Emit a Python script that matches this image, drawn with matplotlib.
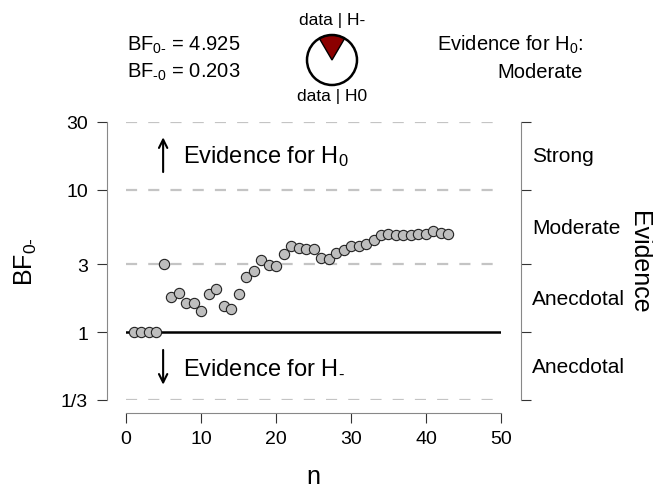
import numpy as np
import matplotlib
matplotlib.use("Agg")
import matplotlib.pyplot as plt
from matplotlib.patches import Wedge, Circle

plt.rcParams['font.family'] = ['Liberation Sans', 'DejaVu Sans']
plt.rcParams['mathtext.fontset'] = 'custom'
plt.rcParams['mathtext.rm'] = 'Liberation Sans'
plt.rcParams['mathtext.it'] = 'Liberation Sans:italic'

# sequential BF0- values, n = 1..43
n = np.arange(1, 44)
bf = [1.0, 1.0, 1.0, 1.0, 3.01, 1.76, 1.88, 1.61, 1.61, 1.41,
      1.85, 2.00, 1.53, 1.45, 1.85, 2.44, 2.71, 3.21, 2.96, 2.91,
      3.56, 4.05, 3.90, 3.82, 3.82, 3.32, 3.28, 3.60, 3.78, 4.05,
      4.01, 4.14, 4.47, 4.82, 4.90, 4.82, 4.82, 4.79, 4.93, 4.93,
      5.11, 4.95, 4.925]

yticks = [1/3, 1, 3, 10, 30]
ytick_labels = ["1/3", "1", "3", "10", "30"]
xticks = [0, 10, 20, 30, 40, 50]
bands = [np.sqrt(300), np.sqrt(30), np.sqrt(3), np.sqrt(1/3)]
band_labels = ["Strong", "Moderate", "Anecdotal", "Anecdotal"]

bf_0m = 4.925
bf_m0 = 0.203

fig = plt.figure(figsize=(6.53, 4.89), dpi=100)
ax = fig.add_axes([126/653, 1 - 401/489, 375/653, 278/489])
ax.set_yscale('log')
ax.set_xlim(0, 50)
ax.set_ylim(1/3, 30)

# dashed reference lines
for yv in [1/3, 3, 10, 30]:
    ax.plot([0, 50], [yv, yv], color='#c4c4c4', lw=1.6, ls=(0, (5, 5)), zorder=1)
ax.plot([0, 50], [1, 1], color='black', lw=1.8, zorder=2)

ax.plot(n, bf, 'o', ms=7.4, mfc='#bebebe', mec='#222222', mew=0.8, zorder=3, clip_on=False)

for s in ['top', 'right']:
    ax.spines[s].set_visible(False)
ax.spines['left'].set_position(('outward', 13.7))
ax.spines['bottom'].set_position(('outward', 9.5))
ax.spines['left'].set_bounds(1/3, 30)
ax.spines['bottom'].set_bounds(0, 50)
ax.spines['left'].set_color('#888888')
ax.spines['bottom'].set_color('#888888')

ax.set_yticks(yticks)
ax.set_yticklabels(ytick_labels)
ax.minorticks_off()
ax.set_xticks(xticks)
ax.tick_params(axis='both', labelsize=14, length=7.2, width=0.8, color='#333333')
ax.tick_params(axis='y', pad=6.5)
ax.tick_params(axis='x', pad=5)

ax.set_xlabel('n', fontsize=18, va='baseline')
ax.xaxis.set_label_coords(0.5, (401 - 484) / 278)
ax.set_ylabel(r'BF$_{0\text{-}}$', fontsize=18, va='center', ha='center')
ax.yaxis.set_label_coords((26 - 126) / 375, 0.5)

# right evidence axis
ax2 = ax.twinx()
ax2.set_yscale('log')
ax2.set_ylim(1/3, 30)
for s in ['top', 'left', 'bottom']:
    ax2.spines[s].set_visible(False)
ax2.spines['right'].set_position(('outward', 14.4))
ax2.spines['right'].set_bounds(1/3, 30)
ax2.spines['right'].set_color('#888888')
ax2.set_yticks(yticks)
ax2.set_yticklabels([])
ax2.minorticks_off()
ax2.tick_params(axis='y', length=7.5, width=0.8, color='#333333')

for yv, lab in zip(bands, band_labels):
    ax.text(1.083, yv, lab, transform=ax.get_yaxis_transform(),
            fontsize=15, va='center', ha='left')
ax.text(1.368, 0.5, 'Evidence', transform=ax.transAxes, rotation=-90,
        fontsize=18, va='center', ha='center')

# arrows and evidence texts
ax.annotate('', xy=(0.099, 0.955), xytext=(0.099, 0.81), xycoords='axes fraction',
            arrowprops=dict(arrowstyle='->', lw=1.5, color='black', mutation_scale=15))
ax.annotate('', xy=(0.099, 0.045), xytext=(0.099, 0.19), xycoords='axes fraction',
            arrowprops=dict(arrowstyle='->', lw=1.5, color='black', mutation_scale=15))
ax.text(0.152, 0.878, r'Evidence for H$_0$', transform=ax.transAxes,
        fontsize=17, va='center', ha='left')
ax.text(0.152, 0.122, r'Evidence for H$_{\text{-}}$', transform=ax.transAxes,
        fontsize=17, va='center', ha='left')

# header texts
fig.text(127/653, 1 - 45/489, r'BF$_{0\text{-}}$ = %.3f' % bf_0m, fontsize=14.5, va='center', ha='left')
fig.text(127/653, 1 - 72/489, r'BF$_{\text{-}0}$ = %.3f' % bf_m0, fontsize=14.5, va='center', ha='left')
fig.text(583/653, 1 - 45/489, r'Evidence for H$_0$:', fontsize=14.5, va='center', ha='right')
fig.text(583/653, 1 - 72/489, 'Moderate', fontsize=14.5, va='center', ha='right')

# pie of posterior probabilities
pax = fig.add_axes([(332 - 30)/653, 1 - (61 + 30)/489, 60/653, 60/489])
pax.set_xlim(-30, 30)
pax.set_ylim(-30, 30)
pax.set_aspect('equal')
pax.axis('off')
p_minus = 1 / (1 + bf_0m)
half = p_minus * 360 / 2
pax.add_patch(Wedge((0, 0), 25, 90 - half, 90 + half, facecolor='#8b0000', edgecolor='black', lw=1))
pax.add_patch(Circle((0, 0), 25, facecolor='none', edgecolor='black', lw=1.8))
fig.text(332/653, 1 - 20/489, 'data | H-', fontsize=12.5, va='center', ha='center')
fig.text(332/653, 1 - 97/489, 'data | H0', fontsize=12.5, va='center', ha='center')

fig.savefig('out.png', dpi=100)
